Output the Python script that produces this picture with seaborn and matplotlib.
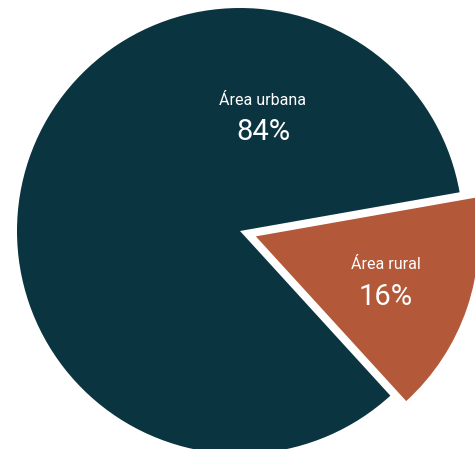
import matplotlib
matplotlib.use("Agg")
import matplotlib.pyplot as plt
import seaborn as sns

# Population share by area type
categories = ["Área urbana", "Área rural"]
values = [84, 16]
colors = ["#0b3441", "#b35838"]

sns.set_theme(style="white")
plt.rcParams["font.family"] = ["Liberation Sans Narrow", "Roboto", "DejaVu Sans"]

W, H = 475, 449
fig = plt.figure(figsize=(W / 100, H / 100), dpi=100)
ax = fig.add_axes([0, 0, 1, 1])

palette = sns.color_palette(colors)
wedges, _ = ax.pie(
    values,
    colors=palette,
    startangle=10,
    counterclock=True,
    explode=[0, 0.075],
    radius=1.0,
    wedgeprops=dict(linewidth=0),
)

# Frame the pie so it is cropped on the right and bottom edges
cx, cy, r = 240, 231, 223
ax.set_aspect("auto")
ax.set_xlim(-cx / r, (W - cx) / r)
ax.set_ylim(-(H - cy) / r, cy / r)
ax.axis("off")

label_pos = [(0.103, 0.587, 0.444), (0.655, -0.152, -0.296)]
for name, v, (x, y_name, y_val) in zip(categories, values, label_pos):
    ax.text(x, y_name, name, color="white", fontsize=11.5,
            ha="center", va="center")
    ax.text(x, y_val, f"{v}%", color="white", fontsize=21,
            ha="center", va="center")

fig.savefig("out.png", dpi=100, facecolor="white")
